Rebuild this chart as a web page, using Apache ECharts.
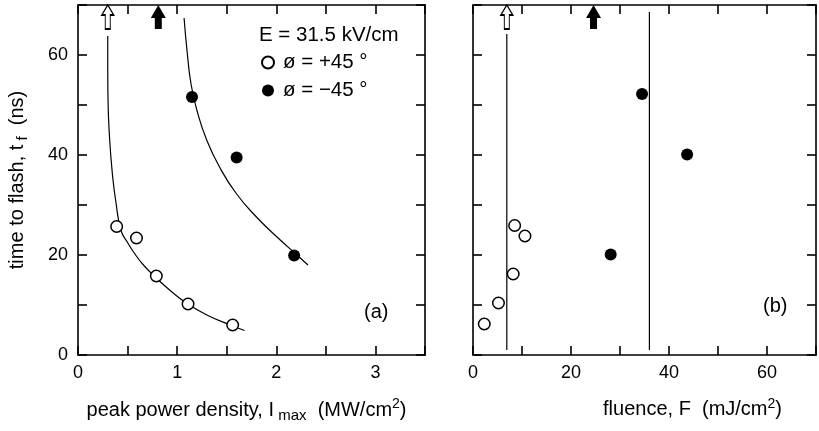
<!DOCTYPE html>
<html><head><meta charset="utf-8">
<script src="https://cdn.jsdelivr.net/npm/echarts@6/dist/echarts.min.js"></script>
<style>html,body{margin:0;padding:0;background:#fff}#c{width:819px;height:431px}</style>
</head><body><div id="c"></div>
<script>
// ---- Panel (a): time to flash vs peak power density ----
const aOpenX = [0.39, 0.59, 0.79, 1.11, 1.56];
const aOpenY = [25.7, 23.4, 15.8, 10.2, 6.0];
const aFilledX = [1.15, 1.60, 2.18];
const aFilledY = [51.6, 39.5, 19.9];
const aOpenCurveX = [0.300, 0.300, 0.303, 0.320, 0.347, 0.380, 0.434, 0.500, 0.560, 0.660, 0.790, 0.930, 1.100, 1.300, 1.535, 1.680];
const aOpenCurveY = [63.8, 57.5, 50.8, 42.9, 36.2, 30.9, 24.9, 22.5, 20.6, 18.0, 15.4, 12.9, 10.3, 8.0, 6.0, 4.9];
const aFilledCurveX = [1.07, 1.10, 1.14, 1.20, 1.30, 1.43, 1.60, 1.80, 2.04, 2.18, 2.32];
const aFilledCurveY = [67.4, 60.8, 54.2, 48.9, 42.9, 37.5, 32.2, 27.6, 23.0, 20.5, 18.0];
const aArrowOpenX = [0.30];
const aArrowFilledX = [0.81];

// ---- Panel (b): time to flash vs fluence ----
const bOpenX = [2.3, 5.2, 8.2, 8.5, 10.6];
const bOpenY = [6.2, 10.4, 16.2, 25.9, 23.8];
const bFilledX = [34.5, 43.7, 28.1];
const bFilledY = [52.2, 40.1, 20.1];
const bLineX = [6.9, 36.0];
const bLineBottom = [1, 1];
const bLineTop = [64.2, 68.6];
const bArrowOpenX = [6.9];
const bArrowFilledX = [24.6];

const arrowY = 67.6;
const yTicks = [0, 20, 40, 60];
const xTicksA = [0, 1, 2, 3];
const xTicksB = [0, 20, 40, 60];

const nameOpen = 'ø = +45 °';
const nameFilled = 'ø = −45 °';

const FONT = '"Liberation Sans", Arial, Helvetica, sans-serif';
const zip = (xs, ys) => xs.map((x, i) => [x, ys[i]]);

const openArrowPath = 'path://M6,0 L12,10 L8.5,10 L8.5,24 L3.5,24 L3.5,10 L0,10 Z';
const filledArrowPath = 'path://M7.5,0 L15,13 L11,13 L11,24 L4,24 L4,13 L0,13 Z';

const axisLine = { show: true, onZero: false, lineStyle: { color: '#000', width: 1.6 } };
const axisTick = { show: true, inside: true, length: 9, lineStyle: { color: '#000', width: 1.6 } };
const labelStyle = { color: '#000', fontSize: 18, fontFamily: FONT };
const rich = {
  n: { fontSize: 20, fontFamily: FONT, color: '#000' },
  s: { fontSize: 15, fontFamily: FONT, color: '#000', padding: [11, 0, 0, 0] },
  p: { fontSize: 14, fontFamily: FONT, color: '#000', padding: [0, 0, 11, 0] }
};

function xAx(grid, max, interval, ticks, pos, name, extra) {
  return Object.assign({
    type: 'value', gridIndex: grid, min: 0, max: max, interval: interval, position: pos,
    axisLine: axisLine, axisTick: axisTick, splitLine: { show: false },
    axisLabel: pos === 'bottom' ? Object.assign({ margin: 9, formatter: v => ticks.indexOf(v) >= 0 ? String(v) : '' }, labelStyle) : { show: false },
    name: name || '', nameLocation: 'middle', nameGap: 42
  }, extra || {});
}
function yAx(grid, pos, showLabel, name) {
  return {
    type: 'value', gridIndex: grid, min: 0, max: 70, interval: 10, position: pos,
    axisLine: axisLine, axisTick: axisTick, splitLine: { show: false },
    axisLabel: showLabel ? Object.assign({ margin: 10, formatter: v => yTicks.indexOf(v) >= 0 ? String(v) : '' }, labelStyle) : { show: false },
    name: name || '', nameLocation: 'middle', nameGap: 48,
    nameTextStyle: { rich: rich, padding: [0, 0, 0, 0] }
  };
}

function scatter(name, xi, yi, data, filled) {
  return {
    type: 'scatter', name: name, xAxisIndex: xi, yAxisIndex: yi, data: data,
    symbol: 'circle', symbolSize: filled ? 12 : 11.5,
    itemStyle: { color: filled ? '#000' : '#fff', borderColor: '#000', borderWidth: filled ? 0 : 1.5, opacity: 1 },
    z: 5
  };
}
function curve(xi, yi, data) {
  return {
    type: 'line', xAxisIndex: xi, yAxisIndex: yi, data: data, smooth: 0.5,
    showSymbol: false, symbol: 'none', lineStyle: { color: '#000', width: 1.2 }, z: 3, silent: true
  };
}
function arrow(xi, yi, xs, filled) {
  return {
    type: 'scatter', xAxisIndex: xi, yAxisIndex: yi, data: xs.map(x => [x, arrowY]),
    symbol: filled ? filledArrowPath : openArrowPath,
    symbolSize: filled ? [15, 24] : [12, 24],
    itemStyle: { color: filled ? '#000' : '#fff', borderColor: '#000', borderWidth: filled ? 0 : 1.3, opacity: 1 },
    clip: false, z: 6, silent: true
  };
}

const series = [
  curve(0, 0, zip(aOpenCurveX, aOpenCurveY)),
  curve(0, 0, zip(aFilledCurveX, aFilledCurveY)),
  scatter(nameOpen, 0, 0, zip(aOpenX, aOpenY), false),
  scatter(nameFilled, 0, 0, zip(aFilledX, aFilledY), true),
  arrow(0, 0, aArrowOpenX, false),
  arrow(0, 0, aArrowFilledX, true),
  scatter(nameOpen, 2, 2, zip(bOpenX, bOpenY), false),
  scatter(nameFilled, 2, 2, zip(bFilledX, bFilledY), true),
  arrow(2, 2, bArrowOpenX, false),
  arrow(2, 2, bArrowFilledX, true)
];
bLineX.forEach((x, i) => {
  series.push({
    type: 'line', xAxisIndex: 2, yAxisIndex: 2, data: [[x, bLineBottom[i]], [x, bLineTop[i]]],
    showSymbol: false, symbol: 'none', lineStyle: { color: '#000', width: 1.2 }, z: 3, silent: true
  });
});

const option = {
  backgroundColor: '#fff',
  animation: false,
  textStyle: { fontFamily: FONT },
  grid: [
    { left: 78, top: 5, width: 347, height: 350 },
    { left: 473, top: 5, width: 349, height: 350 }
  ],
  xAxis: [
    xAx(0, 3.5, 0.5, xTicksA, 'bottom', '{n|peak power density, I}{s| max}{n|  (MW/cm}{p|2}{n|)}',
      { nameTextStyle: { rich: rich, padding: [0, 10, 0, 0] } }),
    xAx(0, 3.5, 0.5, xTicksA, 'top'),
    xAx(1, 70, 10, xTicksB, 'bottom', '{n|fluence, F  (mJ/cm}{p|2}{n|)}',
      { nameTextStyle: { rich: rich, padding: [0, 0, 0, 96] } }),
    xAx(1, 70, 10, xTicksB, 'top')
  ],
  yAxis: [
    yAx(0, 'left', true, '{n|time to flash, t}{s| f}{n|  (ns)}'),
    yAx(0, 'right', false),
    yAx(1, 'left', false),
    yAx(1, 'right', false)
  ],
  legend: {
    data: [nameOpen, nameFilled],
    orient: 'vertical', left: 256, top: 47,
    icon: 'circle', itemWidth: 12, itemHeight: 12, itemGap: 7,
    textStyle: { fontSize: 20.5, fontFamily: FONT, color: '#000', padding: [0, 0, 0, 4] },
    selectedMode: false
  },
  graphic: [
    { type: 'text', left: 259, top: 25, style: { text: 'E = 31.5 kV/cm', font: '20.5px ' + FONT, fill: '#000' } },
    { type: 'text', left: 364, top: 302, style: { text: '(a)', font: '20px ' + FONT, fill: '#000' } },
    { type: 'text', left: 763, top: 296, style: { text: '(b)', font: '20px ' + FONT, fill: '#000' } }
  ],
  series: series
};

const chart = echarts.init(document.getElementById('c'), null, { renderer: 'canvas' });
chart.setOption(option);
</script>
</body></html>
